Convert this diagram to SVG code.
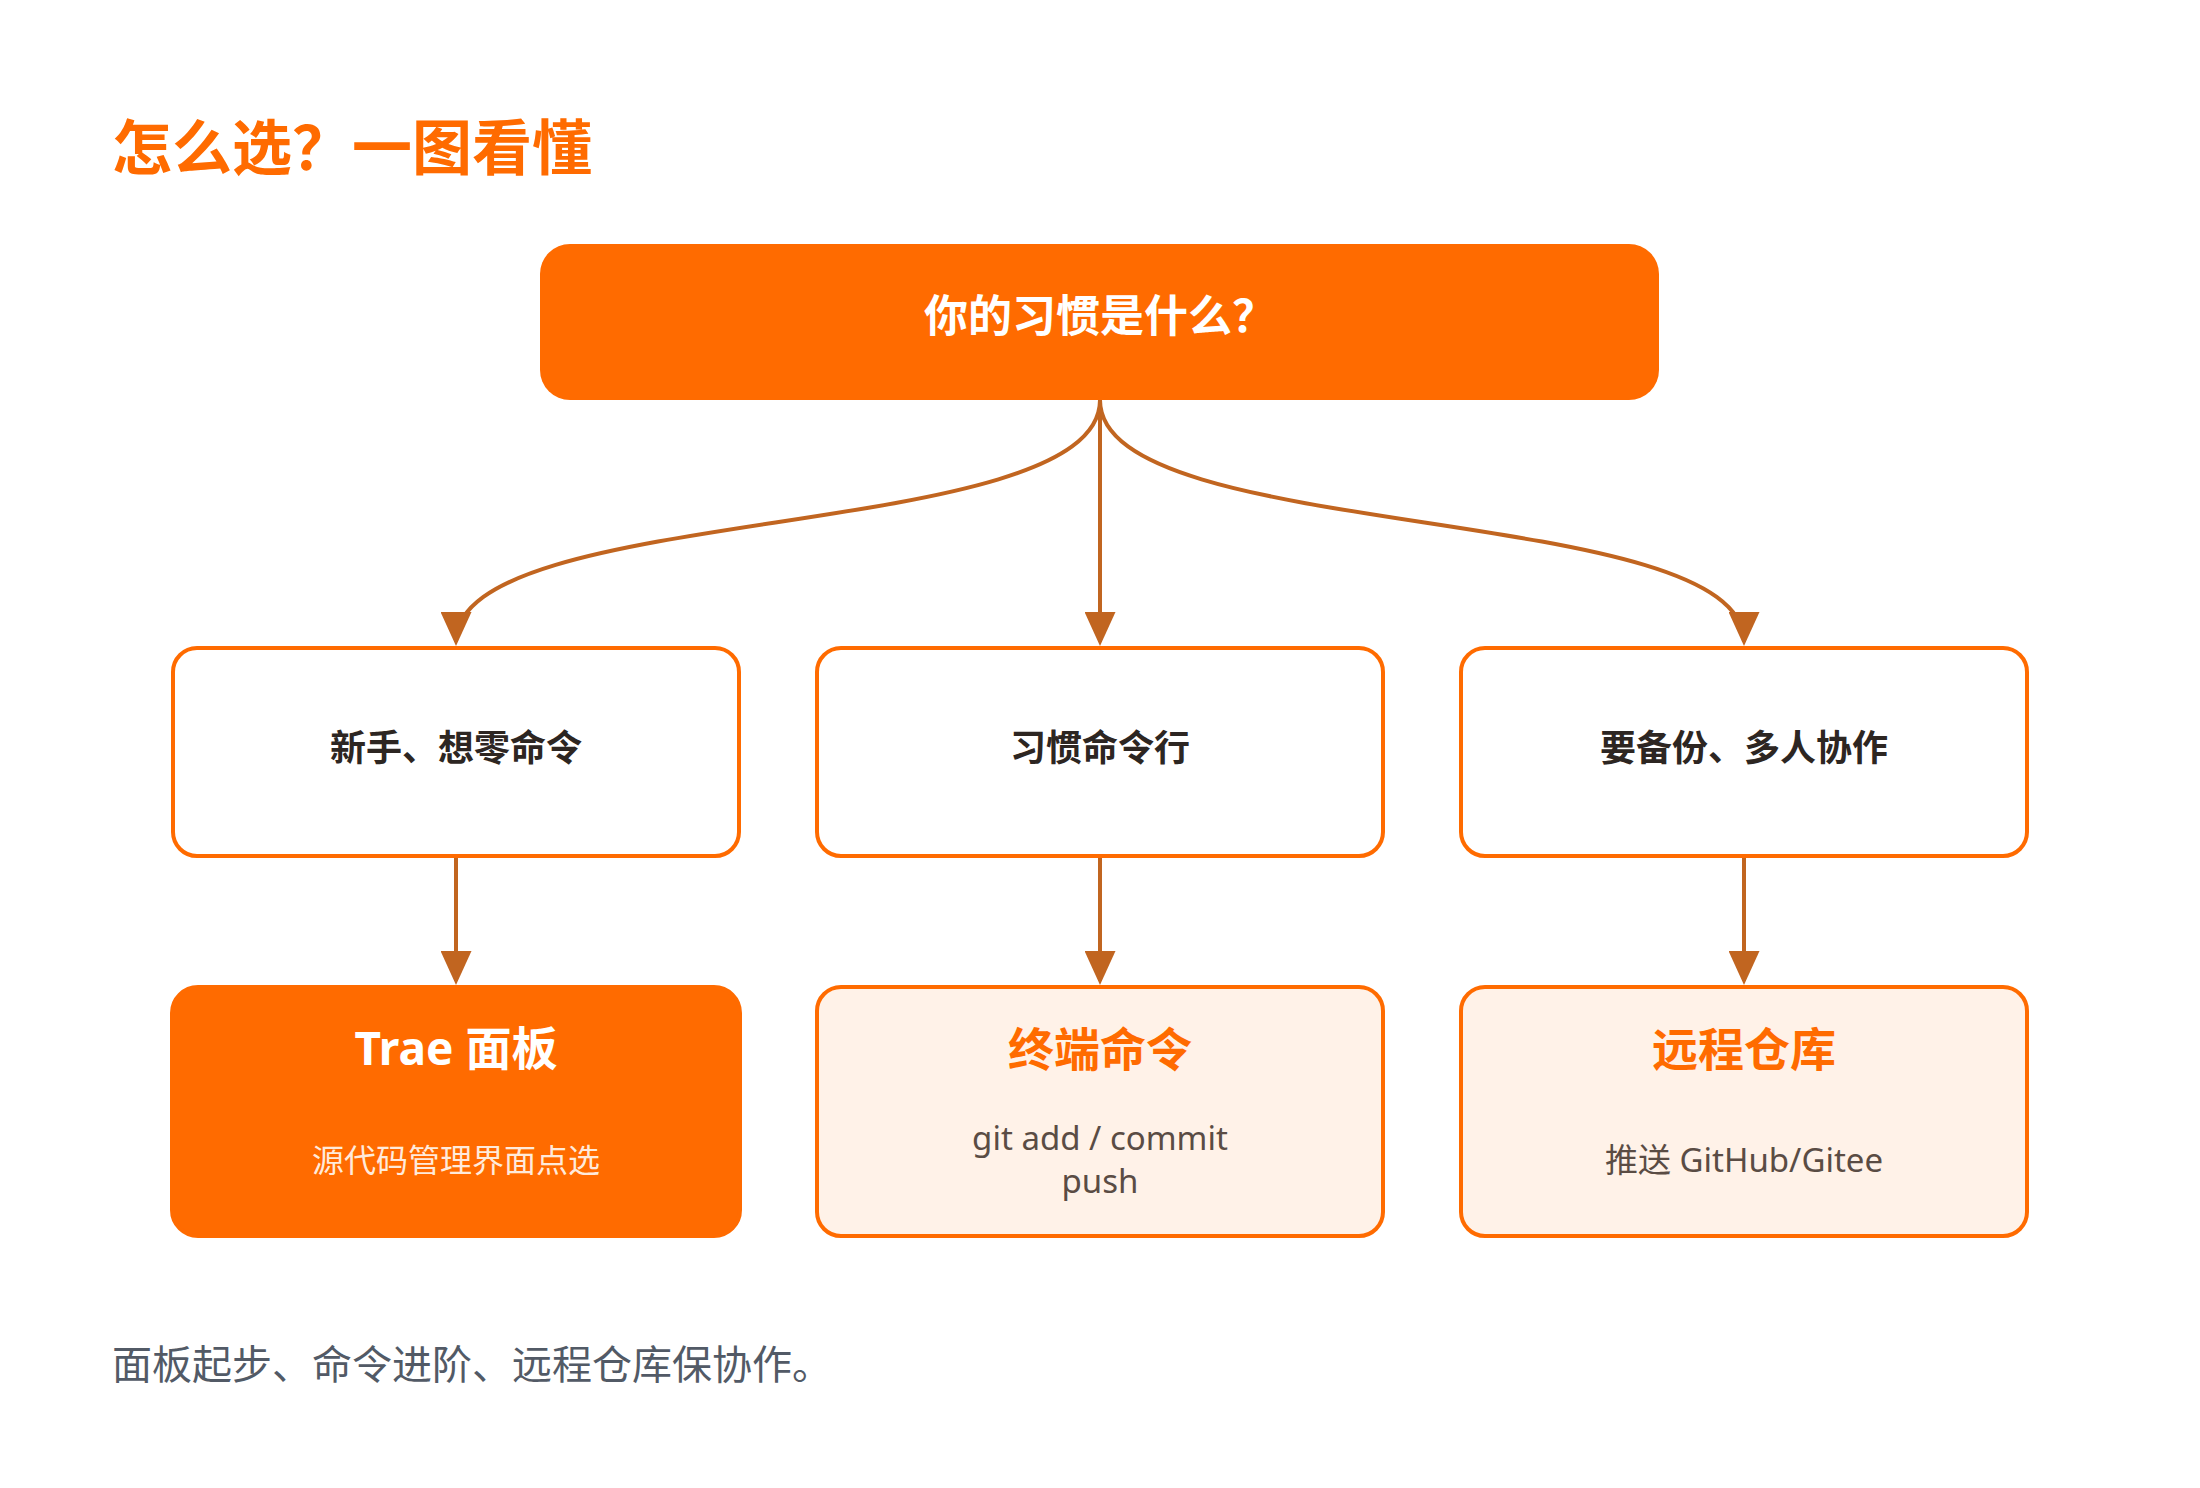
<svg xmlns="http://www.w3.org/2000/svg" width="2200" height="1488" viewBox="0 0 2200 1488">
  <style>
    text { font-family: 'Noto Sans', 'Noto Sans CJK SC', sans-serif; }
    .title { font-size: 60px; font-weight: 700; fill: #FF6B00; }
    .root-box { fill: #FF6B00; }
    .root-text { font-size: 44px; font-weight: 700; fill: #FFFFFF; text-anchor: middle; }
    .q-box { fill: #FFFFFF; stroke: #FF6B00; stroke-width: 4; }
    .q-text { font-size: 36px; font-weight: 700; fill: #2D2622; text-anchor: middle; }
    .a-box { fill: #FFF2E8; stroke: #FF6B00; stroke-width: 4; }
    .a-box-main { fill: #FF6B00; stroke: #FF6B00; stroke-width: 4; }
    .a-title { font-size: 46px; font-weight: 700; fill: #FF6B00; text-anchor: middle; }
    .a-title-main { font-size: 46px; font-weight: 700; fill: #FFFFFF; text-anchor: middle; }
    .a-sub { font-size: 33px; fill: #5A4C44; text-anchor: middle; }
    .a-sub-main { font-size: 32px; fill: #FFEADB; text-anchor: middle; }
    .footer { font-size: 40px; fill: #525A66; }
    .edge { fill: none; stroke: #C16520; stroke-width: 4; marker-end: url(#arrow); }
  </style>
  <defs>
    <marker id="arrow" markerUnits="userSpaceOnUse" viewBox="0 0 31 34" markerWidth="31" markerHeight="34" refX="15.5" refY="30" orient="0">
      <path d="M0,0 L31,0 L15.5,34 Z" fill="#C16520"/>
    </marker>
  </defs>

  <rect width="2200" height="1488" fill="#FFFFFF"/>

  <text id="title" class="title" x="112" y="170">怎么选？一图看懂</text>

  <g id="connectors">
    <path class="edge" d="M1100,400 C1100,545 456,500 456,642"/>
    <path class="edge" d="M1100,400 L1100,642"/>
    <path class="edge" d="M1100,400 C1100,545 1744,500 1744,642"/>
    <path class="edge" d="M456,857 L456,981"/>
    <path class="edge" d="M1100,857 L1100,981"/>
    <path class="edge" d="M1744,857 L1744,981"/>
  </g>

  <g id="node-root">
    <rect class="root-box" x="540" y="244" width="1119" height="156" rx="30" ry="30"/>
    <text class="root-text" x="1100" y="332">你的习惯是什么？</text>
  </g>

  <g id="node-q1">
    <rect class="q-box" x="173" y="648" width="566" height="208" rx="24" ry="24"/>
    <text class="q-text" x="456" y="761">新手、想零命令</text>
  </g>
  <g id="node-q2">
    <rect class="q-box" x="817" y="648" width="566" height="208" rx="24" ry="24"/>
    <text class="q-text" x="1100" y="761">习惯命令行</text>
  </g>
  <g id="node-q3">
    <rect class="q-box" x="1461" y="648" width="566" height="208" rx="24" ry="24"/>
    <text class="q-text" x="1744" y="761">要备份、多人协作</text>
  </g>

  <g id="node-a1">
    <rect class="a-box-main" x="172" y="987" width="568" height="249" rx="26" ry="26"/>
    <text class="a-title-main" x="456" y="1065">Trae 面板</text>
    <text class="a-sub-main" x="456" y="1172">源代码管理界面点选</text>
  </g>
  <g id="node-a2">
    <rect class="a-box" x="817" y="987" width="566" height="249" rx="24" ry="24"/>
    <text class="a-title" x="1100" y="1066">终端命令</text>
    <text class="a-sub" x="1100" y="1150">git add / commit</text>
    <text class="a-sub" x="1100" y="1193">push</text>
  </g>
  <g id="node-a3">
    <rect class="a-box" x="1461" y="987" width="566" height="249" rx="24" ry="24"/>
    <text class="a-title" x="1744" y="1066">远程仓库</text>
    <text class="a-sub" x="1744" y="1172">推送 GitHub/Gitee</text>
  </g>

  <text id="footer" class="footer" x="112" y="1379">面板起步、命令进阶、远程仓库保协作。</text>
</svg>
